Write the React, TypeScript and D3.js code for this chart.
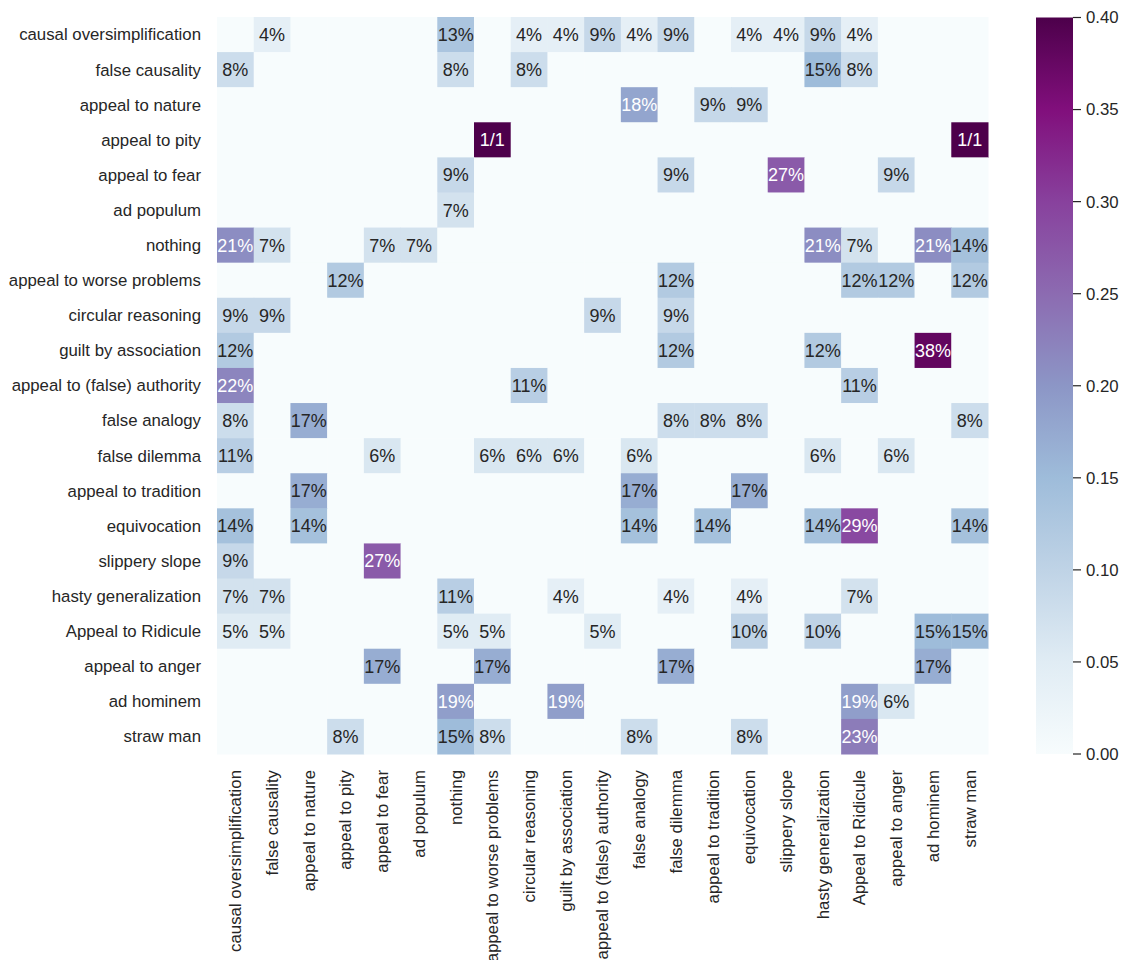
import React from 'react';
import * as d3 from 'd3';

const width = 1124;
const height = 960;

const fallacies = [
  'causal oversimplification', 'false causality', 'appeal to nature', 'appeal to pity',
  'appeal to fear', 'ad populum', 'nothing', 'appeal to worse problems', 'circular reasoning',
  'guilt by association', 'appeal to (false) authority', 'false analogy', 'false dilemma',
  'appeal to tradition', 'equivocation', 'slippery slope', 'hasty generalization',
  'Appeal to Ridicule', 'appeal to anger', 'ad hominem', 'straw man',
];

// percent of row, 100 = the single "1/1" case
const shares = [
  [0, 4, 0, 0, 0, 0, 13, 0, 4, 4, 9, 4, 9, 0, 4, 4, 9, 4, 0, 0, 0],
  [8, 0, 0, 0, 0, 0, 8, 0, 8, 0, 0, 0, 0, 0, 0, 0, 15, 8, 0, 0, 0],
  [0, 0, 0, 0, 0, 0, 0, 0, 0, 0, 0, 18, 0, 9, 9, 0, 0, 0, 0, 0, 0],
  [0, 0, 0, 0, 0, 0, 0, 100, 0, 0, 0, 0, 0, 0, 0, 0, 0, 0, 0, 0, 100],
  [0, 0, 0, 0, 0, 0, 9, 0, 0, 0, 0, 0, 9, 0, 0, 27, 0, 0, 9, 0, 0],
  [0, 0, 0, 0, 0, 0, 7, 0, 0, 0, 0, 0, 0, 0, 0, 0, 0, 0, 0, 0, 0],
  [21, 7, 0, 0, 7, 7, 0, 0, 0, 0, 0, 0, 0, 0, 0, 0, 21, 7, 0, 21, 14],
  [0, 0, 0, 12, 0, 0, 0, 0, 0, 0, 0, 0, 12, 0, 0, 0, 0, 12, 12, 0, 12],
  [9, 9, 0, 0, 0, 0, 0, 0, 0, 0, 9, 0, 9, 0, 0, 0, 0, 0, 0, 0, 0],
  [12, 0, 0, 0, 0, 0, 0, 0, 0, 0, 0, 0, 12, 0, 0, 0, 12, 0, 0, 38, 0],
  [22, 0, 0, 0, 0, 0, 0, 0, 11, 0, 0, 0, 0, 0, 0, 0, 0, 11, 0, 0, 0],
  [8, 0, 17, 0, 0, 0, 0, 0, 0, 0, 0, 0, 8, 8, 8, 0, 0, 0, 0, 0, 8],
  [11, 0, 0, 0, 6, 0, 0, 6, 6, 6, 0, 6, 0, 0, 0, 0, 6, 0, 6, 0, 0],
  [0, 0, 17, 0, 0, 0, 0, 0, 0, 0, 0, 17, 0, 0, 17, 0, 0, 0, 0, 0, 0],
  [14, 0, 14, 0, 0, 0, 0, 0, 0, 0, 0, 14, 0, 14, 0, 0, 14, 29, 0, 0, 14],
  [9, 0, 0, 0, 27, 0, 0, 0, 0, 0, 0, 0, 0, 0, 0, 0, 0, 0, 0, 0, 0],
  [7, 7, 0, 0, 0, 0, 11, 0, 0, 4, 0, 0, 4, 0, 4, 0, 0, 7, 0, 0, 0],
  [5, 5, 0, 0, 0, 0, 5, 5, 0, 0, 5, 0, 0, 0, 10, 0, 10, 0, 0, 15, 15],
  [0, 0, 0, 0, 17, 0, 0, 17, 0, 0, 0, 0, 17, 0, 0, 0, 0, 0, 0, 17, 0],
  [0, 0, 0, 0, 0, 0, 19, 0, 0, 19, 0, 0, 0, 0, 0, 0, 0, 19, 6, 0, 0],
  [0, 0, 0, 8, 0, 0, 15, 8, 0, 0, 0, 8, 0, 0, 8, 0, 0, 23, 0, 0, 0],
];

const colorTicks = [0, 0.05, 0.1, 0.15, 0.2, 0.25, 0.3, 0.35, 0.4];

const bupu = ['#f7fcfd', '#e0ecf4', '#bfd3e6', '#9ebcda', '#8c96c6', '#8c6bb1', '#88419d', '#810f7c', '#4d004b'];
const vmax = 0.4;

const color = d3.scaleLinear<string>()
  .domain(bupu.map((_, i) => (i / (bupu.length - 1)) * vmax))
  .range(bupu)
  .interpolate(d3.interpolateRgb)
  .clamp(true);

// seaborn's rule for annotation colour
const luminance = (c: string) => {
  const rgb = d3.rgb(c);
  const lin = (v: number) => {
    const s = v / 255;
    return s <= 0.03928 ? s / 12.92 : Math.pow((s + 0.055) / 1.055, 2.4);
  };
  return 0.2126 * lin(rgb.r) + 0.7152 * lin(rgb.g) + 0.0722 * lin(rgb.b);
};

const font = '"Liberation Sans", Arial, sans-serif';
const ink = '#262626';

export default function App() {
  const x = d3.scaleBand().domain(fallacies).range([217, 988]);
  const y = d3.scaleBand().domain(fallacies).range([17, 754]);
  const cb = d3.scaleLinear().domain([0, vmax]).range([754, 17.5]);
  const cbX = 1036;
  const cbW = 37;

  const cells = shares.flatMap((row, i) =>
    row.map((pct, j) => ({ r: fallacies[i], c: fallacies[j], v: pct / 100, pct }))
  );

  return (
    <div style={{ position: 'absolute', left: 0, top: 0 }}>
      <svg width={width} height={height} style={{ display: 'block', fontFamily: font }}>
        <defs>
          <linearGradient id="cbar" x1="0" y1="1" x2="0" y2="0">
            {bupu.map((c, i) => (
              <stop key={i} offset={i / (bupu.length - 1)} stopColor={c} />
            ))}
          </linearGradient>
        </defs>
        <rect width={width} height={height} fill="#fff" />

        <g>
          {cells.map((d, k) => (
            <rect key={k} x={x(d.c)} y={y(d.r)} width={x.bandwidth() + 0.5} height={y.bandwidth() + 0.5}
              fill={color(d.v)} />
          ))}
        </g>
        <g fontSize={18} textAnchor="middle">
          {cells.filter(d => d.pct > 0).map((d, k) => {
            const fill = luminance(color(d.v)) > 0.408 ? ink : '#fff';
            return (
              <text key={k} x={x(d.c)! + x.bandwidth() / 2} y={y(d.r)! + y.bandwidth() / 2}
                dy="0.36em" fill={fill}>
                {d.pct >= 100 ? '1/1' : `${d.pct}%`}
              </text>
            );
          })}
        </g>

        <g fontSize={16.8} fill={ink} textAnchor="end">
          {fallacies.map(f => (
            <text key={f} x={201} y={y(f)! + y.bandwidth() / 2} dy="0.35em">{f}</text>
          ))}
        </g>
        <g fontSize={16.8} fill={ink} textAnchor="end">
          {fallacies.map(f => {
            const cx = x(f)! + x.bandwidth() / 2;
            return (
              <text key={f} transform={`translate(${cx},770) rotate(-90)`} dy="0.35em">{f}</text>
            );
          })}
        </g>

        <rect x={cbX} y={cb(vmax)} width={cbW} height={cb(0) - cb(vmax)} fill="url(#cbar)" />
        <g fontSize={16.8} fill={ink}>
          {colorTicks.map(t => (
            <g key={t} transform={`translate(${cbX + cbW},${cb(t)})`}>
              <line x1={0} x2={8} stroke={ink} strokeWidth={1.2} />
              <text x={13} dy="0.35em">{t.toFixed(2)}</text>
            </g>
          ))}
        </g>
      </svg>
    </div>
  );
}
